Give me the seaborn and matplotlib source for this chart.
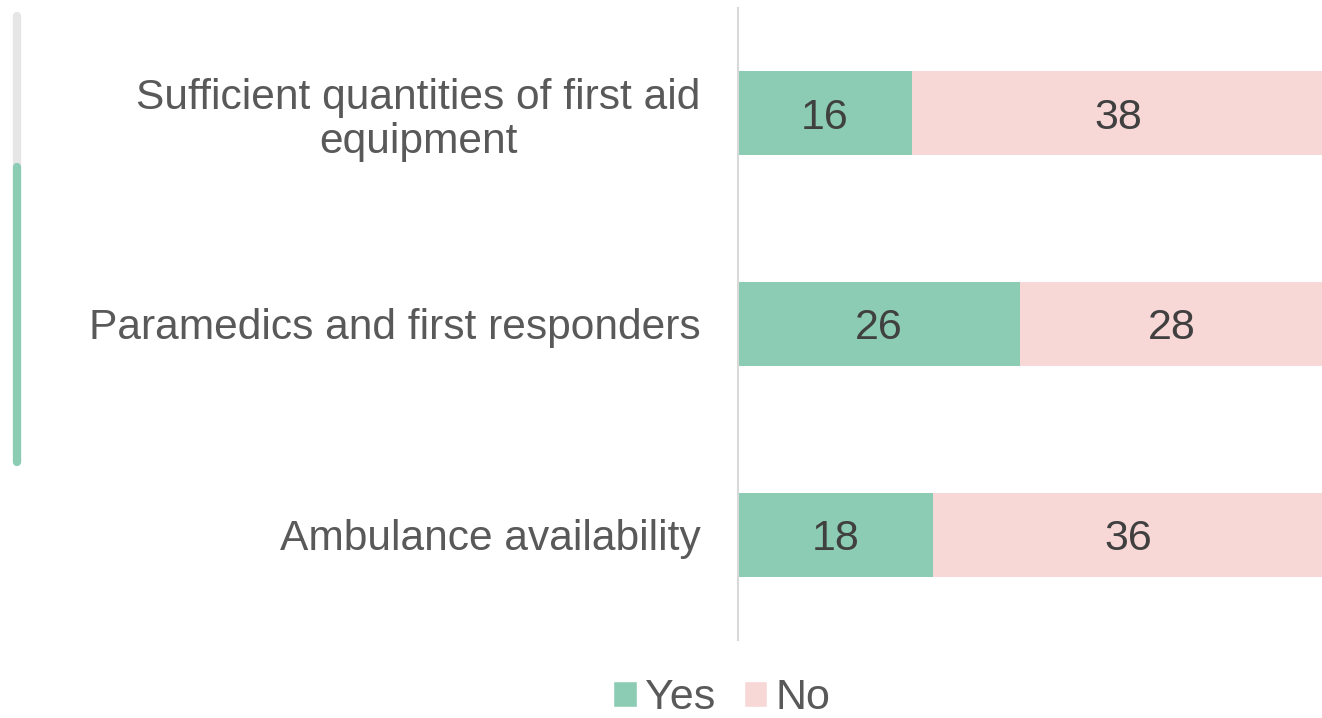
import pandas as pd
import matplotlib
matplotlib.use("Agg")
import matplotlib.pyplot as plt
import seaborn as sns
from matplotlib.lines import Line2D
from matplotlib.patches import Patch

categories = ["Sufficient quantities of first aid\nequipment",
              "Paramedics and first responders",
              "Ambulance availability"]
yes_vals = [16, 26, 18]
no_vals = [38, 28, 36]

GREEN = "#8CCBB4"
PINK = "#F8D7D7"

df = pd.DataFrame({"category": categories, "Yes": yes_vals, "No": no_vals})
df["total"] = df["Yes"] + df["No"]

sns.set_theme(style="white")
plt.rcParams["font.family"] = ["Liberation Sans", "DejaVu Sans"]

fig = plt.figure(figsize=(13.22, 7.18), dpi=100)
ax = fig.add_axes([738 / 1322, 1 - 640 / 718, 1 - 738 / 1322, (640 - 8) / 718])

# stacked: total in pink underneath, yes in green on top
sns.barplot(data=df, y="category", x="total", color=PINK, width=0.4,
            saturation=1, linewidth=0, ax=ax, orient="h")
sns.barplot(data=df, y="category", x="Yes", color=GREEN, width=0.4,
            saturation=1, linewidth=0, ax=ax, orient="h")

for i, row in df.iterrows():
    ax.text(row["Yes"] / 2, i + 0.02, str(row["Yes"]), ha="center", va="center",
            fontsize=31, color="#404040")
    ax.text(row["Yes"] + row["No"] / 2, i + 0.02, str(row["No"]), ha="center",
            va="center", fontsize=31, color="#404040")

ax.set_xlim(0, 53.8)
ax.set_ylim(2.5, -0.5)
ax.set_xlabel("")
ax.set_ylabel("")
ax.set_xticks([])
ax.tick_params(axis="y", length=0, pad=27, labelsize=30.6, labelcolor="#595959")
for lbl in ax.get_yticklabels():
    lbl.set_linespacing(1.15)
    lbl.set_multialignment("center")
for s in ["top", "right", "bottom"]:
    ax.spines[s].set_visible(False)
ax.spines["left"].set_color("#D9D9D9")
ax.spines["left"].set_linewidth(1.5)

handles = [Patch(facecolor=GREEN, label="Yes"), Patch(facecolor=PINK, label="No")]
fig.legend(handles=handles, loc="center", bbox_to_anchor=(722 / 1322, 1 - 698 / 718),
           ncol=2, frameon=False, fontsize=31, labelcolor="#595959",
           handlelength=0.55, handleheight=0.55, handletextpad=0.2, columnspacing=0.65,
           borderpad=0.1)

# scroll indicator at the left edge
fig.add_artist(Line2D([17 / 1322, 17 / 1322], [1 - 16 / 718, 1 - 165 / 718],
                      color="#E6E6E6", lw=6, solid_capstyle="round"))
fig.add_artist(Line2D([17 / 1322, 17 / 1322], [1 - 167 / 718, 1 - 462 / 718],
                      color=GREEN, lw=6, solid_capstyle="round"))

fig.savefig("out.png", dpi=100)
